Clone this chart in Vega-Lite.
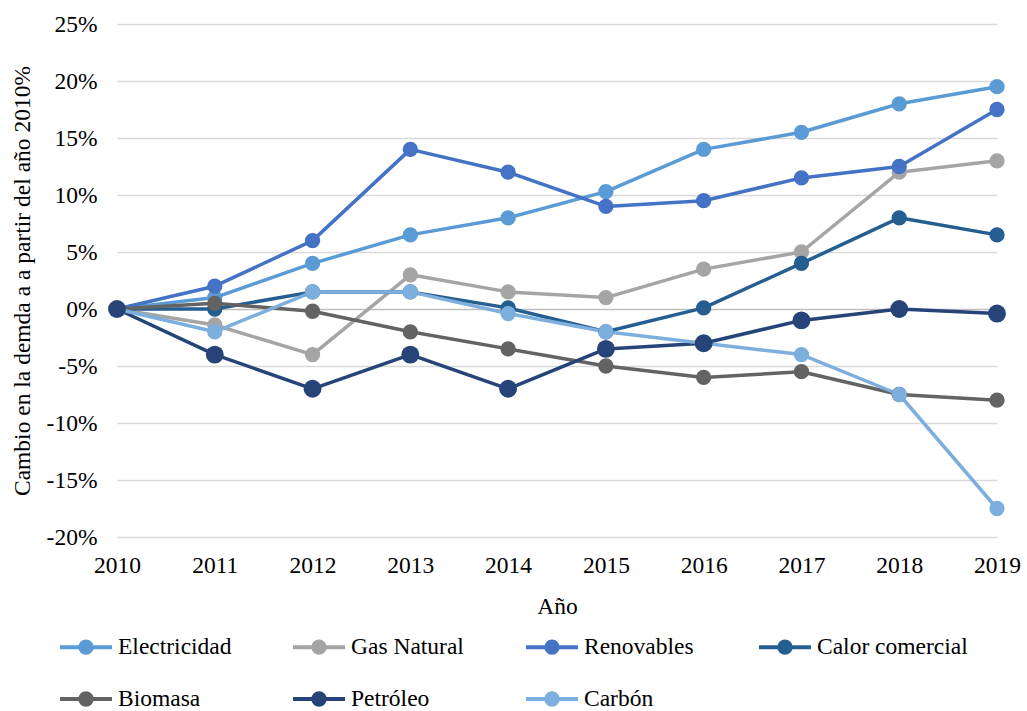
{
  "$schema": "https://vega.github.io/schema/vega-lite/v6.json",
  "autosize": {"type": "none"},
  "padding": {"left": 117, "top": 24, "right": 30, "bottom": 174},
  "width": 880,
  "height": 513,
  "background": "white",
  "config": {
    "view": {"stroke": null},
    "font": "Liberation Serif",
    "axis": {"labelFont": "Liberation Serif", "titleFont": "Liberation Serif", "labelColor": "#000000", "titleColor": "#000000", "titleFontWeight": "normal"},
    "legend": {"labelFont": "Liberation Serif", "labelColor": "#000000"}
  },
  "data": {
    "values": [
      {"serie": "Electricidad", "anio": 2010, "valor": 0},
      {"serie": "Electricidad", "anio": 2011, "valor": 1},
      {"serie": "Electricidad", "anio": 2012, "valor": 4},
      {"serie": "Electricidad", "anio": 2013, "valor": 6.5},
      {"serie": "Electricidad", "anio": 2014, "valor": 8},
      {"serie": "Electricidad", "anio": 2015, "valor": 10.3},
      {"serie": "Electricidad", "anio": 2016, "valor": 14},
      {"serie": "Electricidad", "anio": 2017, "valor": 15.5},
      {"serie": "Electricidad", "anio": 2018, "valor": 18},
      {"serie": "Electricidad", "anio": 2019, "valor": 19.5},
      {"serie": "Gas Natural", "anio": 2010, "valor": 0},
      {"serie": "Gas Natural", "anio": 2011, "valor": -1.4},
      {"serie": "Gas Natural", "anio": 2012, "valor": -4},
      {"serie": "Gas Natural", "anio": 2013, "valor": 3},
      {"serie": "Gas Natural", "anio": 2014, "valor": 1.5},
      {"serie": "Gas Natural", "anio": 2015, "valor": 1},
      {"serie": "Gas Natural", "anio": 2016, "valor": 3.5},
      {"serie": "Gas Natural", "anio": 2017, "valor": 5},
      {"serie": "Gas Natural", "anio": 2018, "valor": 12},
      {"serie": "Gas Natural", "anio": 2019, "valor": 13},
      {"serie": "Renovables", "anio": 2010, "valor": 0},
      {"serie": "Renovables", "anio": 2011, "valor": 2},
      {"serie": "Renovables", "anio": 2012, "valor": 6},
      {"serie": "Renovables", "anio": 2013, "valor": 14},
      {"serie": "Renovables", "anio": 2014, "valor": 12},
      {"serie": "Renovables", "anio": 2015, "valor": 9},
      {"serie": "Renovables", "anio": 2016, "valor": 9.5},
      {"serie": "Renovables", "anio": 2017, "valor": 11.5},
      {"serie": "Renovables", "anio": 2018, "valor": 12.5},
      {"serie": "Renovables", "anio": 2019, "valor": 17.5},
      {"serie": "Calor comercial", "anio": 2010, "valor": 0},
      {"serie": "Calor comercial", "anio": 2011, "valor": 0},
      {"serie": "Calor comercial", "anio": 2012, "valor": 1.5},
      {"serie": "Calor comercial", "anio": 2013, "valor": 1.5},
      {"serie": "Calor comercial", "anio": 2014, "valor": 0.1},
      {"serie": "Calor comercial", "anio": 2015, "valor": -2},
      {"serie": "Calor comercial", "anio": 2016, "valor": 0.1},
      {"serie": "Calor comercial", "anio": 2017, "valor": 4},
      {"serie": "Calor comercial", "anio": 2018, "valor": 8},
      {"serie": "Calor comercial", "anio": 2019, "valor": 6.5},
      {"serie": "Biomasa", "anio": 2010, "valor": 0},
      {"serie": "Biomasa", "anio": 2011, "valor": 0.5},
      {"serie": "Biomasa", "anio": 2012, "valor": -0.2},
      {"serie": "Biomasa", "anio": 2013, "valor": -2},
      {"serie": "Biomasa", "anio": 2014, "valor": -3.5},
      {"serie": "Biomasa", "anio": 2015, "valor": -5},
      {"serie": "Biomasa", "anio": 2016, "valor": -6},
      {"serie": "Biomasa", "anio": 2017, "valor": -5.5},
      {"serie": "Biomasa", "anio": 2018, "valor": -7.5},
      {"serie": "Biomasa", "anio": 2019, "valor": -8},
      {"serie": "Petróleo", "anio": 2010, "valor": 0},
      {"serie": "Petróleo", "anio": 2011, "valor": -4},
      {"serie": "Petróleo", "anio": 2012, "valor": -7},
      {"serie": "Petróleo", "anio": 2013, "valor": -4},
      {"serie": "Petróleo", "anio": 2014, "valor": -7},
      {"serie": "Petróleo", "anio": 2015, "valor": -3.5},
      {"serie": "Petróleo", "anio": 2016, "valor": -3},
      {"serie": "Petróleo", "anio": 2017, "valor": -1},
      {"serie": "Petróleo", "anio": 2018, "valor": 0},
      {"serie": "Petróleo", "anio": 2019, "valor": -0.4},
      {"serie": "Carbón", "anio": 2010, "valor": 0},
      {"serie": "Carbón", "anio": 2011, "valor": -2},
      {"serie": "Carbón", "anio": 2012, "valor": 1.5},
      {"serie": "Carbón", "anio": 2013, "valor": 1.5},
      {"serie": "Carbón", "anio": 2014, "valor": -0.4},
      {"serie": "Carbón", "anio": 2015, "valor": -2},
      {"serie": "Carbón", "anio": 2016, "valor": -3},
      {"serie": "Carbón", "anio": 2017, "valor": -4},
      {"serie": "Carbón", "anio": 2018, "valor": -7.5},
      {"serie": "Carbón", "anio": 2019, "valor": -17.5}
    ]
  },
  "encoding": {
    "x": {
      "field": "anio",
      "type": "ordinal",
      "scale": {"type": "point", "padding": 0},
      "axis": {
        "title": "Año",
        "labelAngle": 0,
        "labelFontSize": 23.5,
        "titleFontSize": 23.5,
        "domain": false,
        "ticks": false,
        "grid": false,
        "labelPadding": 16,
        "titlePadding": 18
      }
    },
    "y": {
      "field": "valor",
      "type": "quantitative",
      "scale": {"domain": [-20, 25], "nice": false, "zero": false},
      "axis": {
        "title": "Cambio en la demda a a partir del año 2010%",
        "values": [-20, -15, -10, -5, 0, 5, 10, 15, 20, 25],
        "labelExpr": "datum.value + '%'",
        "labelFontSize": 23.5,
        "titleFontSize": 23.5,
        "domain": false,
        "ticks": false,
        "labelPadding": 20,
        "titlePadding": 12,
        "gridColor": {"condition": {"test": "datum.value === 0", "value": "#BFBFBF"}, "value": "#D9D9D9"},
        "gridWidth": 1.5
      }
    },
    "color": {
      "field": "serie",
      "type": "nominal",
      "scale": {
        "domain": ["Electricidad", "Gas Natural", "Renovables", "Calor comercial", "Biomasa", "Petróleo", "Carbón"],
        "range": ["#5B9BD5", "#A5A5A5", "#4472C4", "#255E91", "#636363", "#264478", "#7CAFDD"]
      },
      "legend": {
        "title": null,
        "orient": "none",
        "legendX": -59,
        "legendY": 595,
        "direction": "horizontal",
        "columns": 4,
        "gridAlign": "all",
        "columnPadding": 16,
        "rowPadding": 10,
        "padding": 0,
        "labelFontSize": 23.5,
        "labelOffset": 4,
        "labelLimit": 300,
        "symbolType": "M-1,0L1,0M0.22,0A0.22,0.22,0,1,1,-0.22,0A0.22,0.22,0,1,1,0.22,0Z",
        "symbolSize": 2704,
        "symbolStrokeWidth": 4,
        "symbolOpacity": 1,
        "encode": {
          "symbols": {
            "update": {
              "fill": {"scale": "color", "field": "value"},
              "stroke": {"scale": "color", "field": "value"},
              "opacity": {"value": 1}
            }
          }
        }
      }
    }
  },
  "layer": [
    {
      "mark": {"type": "line", "strokeWidth": 3.5, "strokeJoin": "round", "strokeCap": "round"}
    },
    {
      "mark": {"type": "point", "shape": "circle", "filled": true, "opacity": 1, "size": 235}
    },
    {
      "transform": [{"filter": "datum.serie === 'Petróleo'"}],
      "mark": {"type": "point", "shape": "circle", "filled": true, "opacity": 1, "size": 320}
    }
  ]
}
